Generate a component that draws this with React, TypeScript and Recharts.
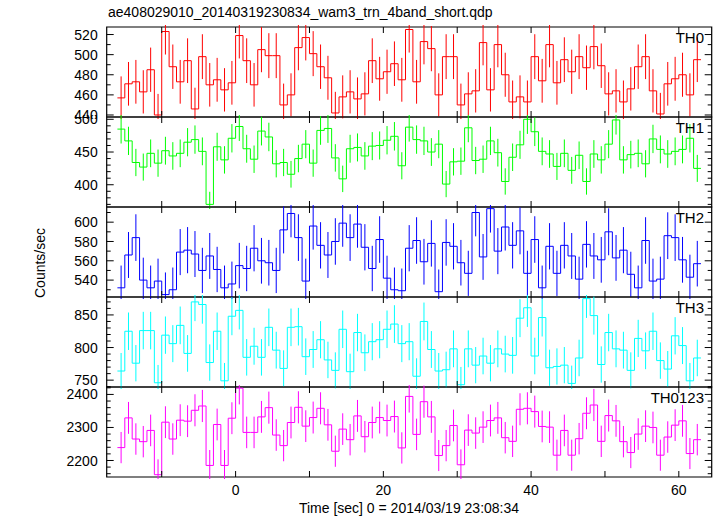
import { ComposedChart, ErrorBar, Line, ReferenceArea, Scatter, XAxis, YAxis } from "recharts";

// 1 s bins, first bin starts at t = -16 s
const BIN_START = -16;
const TIME_DOMAIN = [-17.45, 64.45];
const TIME_TICKS = [-10, 0, 10, 20, 30, 40, 50, 60];
const TIME_LABELS = [0, 20, 40, 60];

const TH0 = [
  457, 471, 473, 463, 485, 440, 523, 488, 473, 494,
  446, 498, 470, 475, 465, 472, 519, 494, 470, 505,
  499, 499, 450, 460, 507, 517, 501, 488, 477, 442,
  458, 463, 456, 461, 494, 476, 483, 491, 475, 525,
  473, 513, 506, 460, 498, 498, 450, 461, 464, 512,
  465, 510, 480, 453, 458, 453, 498, 474, 510, 472,
  495, 483, 498, 487, 508, 489, 461, 464, 453, 466,
  488, 498, 464, 441, 471, 476, 480, 460, 495,
];
const TH1 = [
  485, 467, 434, 427, 448, 433, 452, 444, 448, 465,
  469, 451, 370, 458, 438, 471, 489, 455, 439, 482,
  473, 432, 434, 416, 440, 462, 433, 483, 486, 441,
  409, 455, 457, 444, 459, 460, 468, 474, 429, 488,
  469, 467, 450, 462, 401, 435, 436, 487, 437, 439,
  467, 449, 405, 442, 461, 500, 481, 451, 447, 428,
  448, 422, 445, 405, 447, 438, 462, 499, 438, 446,
  448, 432, 470, 454, 447, 451, 454, 471, 425,
];
const TH2 = [
  532, 566, 584, 540, 532, 539, 525, 530, 569, 571,
  567, 550, 565, 551, 532, 536, 555, 552, 573, 560,
  558, 550, 592, 609, 584, 539, 596, 576, 566, 580,
  599, 584, 598, 574, 552, 582, 542, 530, 529, 573,
  581, 559, 578, 528, 579, 575, 558, 547, 610, 564,
  614, 570, 595, 576, 591, 547, 582, 532, 575, 547,
  576, 565, 541, 577, 565, 561, 590, 563, 571, 546,
  532, 581, 539, 541, 586, 584, 561, 543, 557,
];
const TH3 = [
  764, 825, 776, 826, 826, 746, 819, 806, 834, 791,
  870, 866, 777, 825, 749, 848, 857, 785, 802, 785,
  831, 796, 768, 831, 832, 786, 797, 812, 781, 765,
  828, 763, 823, 792, 809, 812, 828, 836, 806, 809,
  756, 840, 797, 764, 766, 798, 743, 798, 773, 787,
  776, 798, 790, 788, 845, 861, 787, 846, 769, 771,
  773, 745, 784, 875, 849, 774, 823, 798, 796, 765,
  814, 795, 825, 780, 767, 818, 803, 749, 784,
];
const TH0123 = [
  2239, 2329, 2265, 2257, 2291, 2157, 2316, 2265, 2322, 2319,
  2352, 2365, 2185, 2309, 2185, 2328, 2419, 2285, 2285, 2332,
  2360, 2277, 2245, 2315, 2361, 2304, 2330, 2358, 2308, 2228,
  2295, 2263, 2335, 2272, 2315, 2330, 2321, 2333, 2238, 2394,
  2279, 2378, 2332, 2215, 2245, 2306, 2187, 2292, 2283, 2301,
  2321, 2329, 2269, 2258, 2355, 2358, 2348, 2303, 2301, 2216,
  2291, 2216, 2266, 2343, 2368, 2258, 2336, 2320, 2257, 2224,
  2280, 2304, 2300, 2216, 2271, 2307, 2320, 2221, 2263,
];

const TH0_TICKS = [440, 450, 460, 470, 480, 490, 500, 510, 520];
const TH0_LABELS = [440, 460, 480, 500, 520];
const TH1_TICKS = [370, 380, 390, 400, 410, 420, 430, 440, 450, 460, 470, 480, 490, 500];
const TH1_LABELS = [400, 450, 500];
const TH2_TICKS = [530, 540, 550, 560, 570, 580, 590, 600, 610];
const TH2_LABELS = [540, 560, 580, 600];
const TH3_TICKS = [740, 750, 760, 770, 780, 790, 800, 810, 820, 830, 840, 850, 860, 870];
const TH3_LABELS = [750, 800, 850];
const TH0123_TICKS = [
  2160, 2180, 2200, 2220, 2240, 2260, 2280, 2300, 2320, 2340, 2360, 2380, 2400, 2420,
];
const TH0123_LABELS = [2200, 2300, 2400];

const W = 717;
const H = 516;
const PLOT_LEFT = 106.7;
const PLOT_RIGHT = 711.7;
const FIRST_TOP = 27.3;
const PANEL_H = 90;
const PAD = 2;
const FONT = "'Liberation Sans', Arial, sans-serif";

const panels = [
  { name: "TH0", color: "#ff0000", values: TH0, domain: [438, 527.5], ticks: TH0_TICKS, labels: TH0_LABELS },
  { name: "TH1", color: "#00ff00", values: TH1, domain: [366, 503.5], ticks: TH1_TICKS, labels: TH1_LABELS },
  { name: "TH2", color: "#0000ff", values: TH2, domain: [522.5, 615.7], ticks: TH2_TICKS, labels: TH2_LABELS },
  { name: "TH3", color: "#00ffff", values: TH3, domain: [739.5, 877.5], ticks: TH3_TICKS, labels: TH3_LABELS },
  { name: "TH0123", color: "#ff00ff", values: TH0123, domain: [2150, 2422.5], ticks: TH0123_TICKS, labels: TH0123_LABELS },
];

function stepRows(values: number[]) {
  const rows = values.map((v, i) => ({ t: BIN_START + i, v }));
  rows.push({ t: BIN_START + values.length, v: values[values.length - 1] });
  return rows;
}

// poisson errors for 1 s bins
function errRows(values: number[]) {
  return values.map((v, i) => ({ t: BIN_START + i + 0.5, v, e: Math.sqrt(v) }));
}

function Panel({ p, index }: { p: (typeof panels)[number]; index: number }) {
  const top = FIRST_TOP + index * PANEL_H;
  const height = PANEL_H + 2 * PAD;
  const plotTop = PAD;
  const plotBottom = PAD + PANEL_H;

  const yTick = (props: any) => {
    const { y, payload } = props;
    const major = p.labels.includes(payload.value);
    const len = major ? 7 : 4;
    return (
      <g>
        <line x1={PLOT_LEFT} x2={PLOT_LEFT + len} y1={y} y2={y} stroke="#000" />
        <line x1={PLOT_RIGHT - len} x2={PLOT_RIGHT} y1={y} y2={y} stroke="#000" />
        {major && (
          <text x={PLOT_LEFT - 9} y={y} dy="0.36em" textAnchor="end" fontSize={14} fontFamily={FONT} fill="#000">
            {payload.value}
          </text>
        )}
      </g>
    );
  };

  const xTick = (props: any) => {
    const { x } = props;
    return (
      <g>
        <line x1={x} x2={x} y1={plotBottom} y2={plotBottom - 6} stroke="#000" />
        <line x1={x} x2={x} y1={plotTop} y2={plotTop + 6} stroke="#000" />
      </g>
    );
  };

  return (
    <div style={{ position: "absolute", left: 0, top: top - PAD, width: W, height, overflow: "hidden" }}>
      <ComposedChart
        width={W}
        height={height}
        margin={{ top: PAD, bottom: PAD - 1, left: PLOT_LEFT - 1, right: W - PLOT_RIGHT }}
      >
        <XAxis
          type="number"
          dataKey="t"
          domain={TIME_DOMAIN}
          allowDataOverflow
          ticks={TIME_TICKS}
          interval={0}
          height={1}
          axisLine={false}
          tickLine={false}
          tick={xTick}
        />
        <YAxis
          type="number"
          domain={p.domain}
          allowDataOverflow
          ticks={p.ticks}
          interval={0}
          width={1}
          axisLine={false}
          tickLine={false}
          tick={yTick}
        />
        <Line
          data={stepRows(p.values)}
          dataKey="v"
          type="stepAfter"
          stroke={p.color}
          strokeWidth={1}
          dot={false}
          activeDot={false}
          isAnimationActive={false}
        />
        <Scatter data={errRows(p.values)} dataKey="v" shape={() => <g />} isAnimationActive={false}>
          <ErrorBar dataKey="e" direction="y" width={0} stroke={p.color} strokeWidth={1} isAnimationActive={false} />
        </Scatter>
        <ReferenceArea
          x1={TIME_DOMAIN[0]}
          x2={TIME_DOMAIN[1]}
          y1={p.domain[0]}
          y2={p.domain[1]}
          fill="none"
          stroke="#000"
          strokeWidth={1.2}
          ifOverflow="visible"
        />
      </ComposedChart>
    </div>
  );
}

// tick labels under the last panel, from the same time scale
function TimeAxis() {
  const last = panels[panels.length - 1];
  const top = FIRST_TOP + panels.length * PANEL_H;
  const height = H - top;
  const label = (props: any) => {
    const { x, payload } = props;
    if (!TIME_LABELS.includes(payload.value)) return <g />;
    return (
      <text x={x} y={18} textAnchor="middle" fontSize={14} fontFamily={FONT} fill="#000">
        {payload.value}
      </text>
    );
  };
  return (
    <div style={{ position: "absolute", left: 0, top, width: W, height }}>
      <ComposedChart
        width={W}
        height={height}
        margin={{ top: 1, bottom: 0, left: PLOT_LEFT - 1, right: W - PLOT_RIGHT }}
      >
        <XAxis
          orientation="top"
          type="number"
          dataKey="t"
          domain={TIME_DOMAIN}
          allowDataOverflow
          ticks={TIME_TICKS}
          interval={0}
          height={1}
          axisLine={false}
          tickLine={false}
          tick={label}
        />
        <YAxis type="number" domain={last.domain} allowDataOverflow width={1} tick={false} axisLine={false} tickLine={false} />
        <Line
          data={stepRows(last.values)}
          dataKey="v"
          stroke="none"
          dot={false}
          activeDot={false}
          isAnimationActive={false}
        />
      </ComposedChart>
    </div>
  );
}

export default function App() {
  return (
    <div style={{ position: "absolute", left: 0, top: 0, width: W, height: H, background: "#fff" }}>
      {panels.map((p, i) => (
        <Panel key={p.name} p={p} index={i} />
      ))}
      <TimeAxis />
      <svg width={W} height={H} style={{ position: "absolute", left: 0, top: 0, pointerEvents: "none" }}>
        <text x={108} y={17} fontSize={14} fontFamily={FONT} fill="#000">
          ae408029010_20140319230834_wam3_trn_4band_short.qdp
        </text>
        <text
          transform="translate(45,263) rotate(-90)"
          textAnchor="middle"
          fontSize={14}
          fontFamily={FONT}
          fill="#000"
        >
          Counts/sec
        </text>
        <text x={409} y={513} textAnchor="middle" fontSize={14} fontFamily={FONT} fill="#000">
          Time [sec] 0 = 2014/03/19 23:08:34
        </text>
        {panels.map((p, i) => (
          <text
            key={p.name}
            x={704}
            y={FIRST_TOP + i * PANEL_H + 15.4}
            textAnchor="end"
            fontSize={15}
            fontFamily={FONT}
            fill="#000"
          >
            {p.name}
          </text>
        ))}
      </svg>
    </div>
  );
}
